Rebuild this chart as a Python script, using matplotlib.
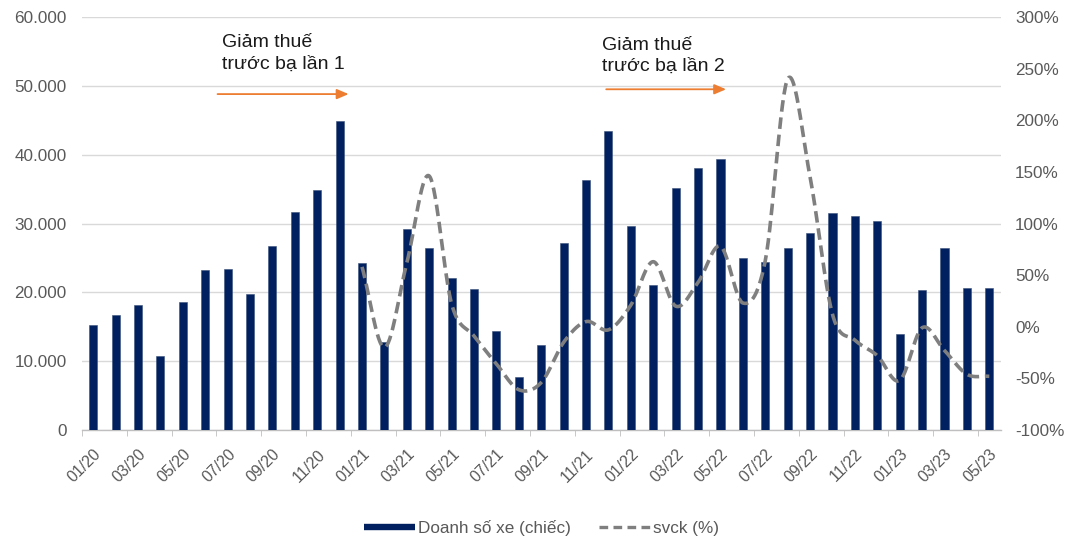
import numpy as np
import matplotlib
matplotlib.use("Agg")
import matplotlib.pyplot as plt
from matplotlib.ticker import FuncFormatter, FixedLocator
from matplotlib.lines import Line2D

plt.rcParams['font.family'] = ['Liberation Sans', 'DejaVu Sans']

months = ["01/20", "02/20", "03/20", "04/20", "05/20", "06/20", "07/20", "08/20", "09/20", "10/20", "11/20", "12/20",
          "01/21", "02/21", "03/21", "04/21", "05/21", "06/21", "07/21", "08/21", "09/21", "10/21", "11/21", "12/21",
          "01/22", "02/22", "03/22", "04/22", "05/22", "06/22", "07/22", "08/22", "09/22", "10/22", "11/22", "12/22",
          "01/23", "02/23", "03/23", "04/23", "05/23"]

sales = [15300, 16700, 18200, 10700, 18600, 23200, 23400, 19700, 26700, 31600, 34900, 44900,
         24200, 12800, 29200, 26400, 22100, 20500, 14400, 7700, 12400, 27100, 36300, 43500,
         29700, 21100, 35100, 38000, 39400, 25000, 24400, 26400, 28600, 31500, 31100, 30300,
         14000, 20400, 26400, 20700, 20700]

# YoY growth (%) starting from 01/21
yoy_start = "01/21"
yoy = [58, -20, 62, 146, 22, -9, -36, -61, -54, -15, 5, -3,
       21, 63, 20, 43, 78, 23, 64, 240, 145, 12, -13, -28,
       -52, -1, -23, -46, -48]

bar_label = "Doanh số xe (chiếc)"
line_label = "svck (%)"
note1 = ["Giảm thuế", "trước bạ lần 1"]
note2 = ["Giảm thuế", "trước bạ lần 2"]

NAVY = "#002060"
GRAY_LINE = "#7f7f7f"
ORANGE = "#ED7D31"
TXT = "#595959"


def catmull_rom(xs, ys, n=30):
    xs = np.asarray(xs, float)
    ys = np.asarray(ys, float)
    px = np.concatenate([[2 * xs[0] - xs[1]], xs, [2 * xs[-1] - xs[-2]]])
    py = np.concatenate([[2 * ys[0] - ys[1]], ys, [2 * ys[-1] - ys[-2]]])
    out_x, out_y = [], []
    t = np.linspace(0, 1, n, endpoint=False)
    for i in range(1, len(px) - 2):
        f = lambda a0, a1, a2, a3: 0.5 * ((2 * a1) + (-a0 + a2) * t +
                                        (2 * a0 - 5 * a1 + 4 * a2 - a3) * t ** 2 +
                                        (-a0 + 3 * a1 - 3 * a2 + a3) * t ** 3)
        out_x.append(f(px[i - 1], px[i], px[i + 1], px[i + 2]))
        out_y.append(f(py[i - 1], py[i], py[i + 1], py[i + 2]))
    out_x.append([xs[-1]])
    out_y.append([ys[-1]])
    return np.concatenate(out_x), np.concatenate(out_y)


fig = plt.figure(figsize=(10.66, 5.40), dpi=100)
ax = fig.add_axes([82 / 1066, 1 - 430 / 540, (1000.5 - 82) / 1066, (430 - 17) / 540])

x = np.arange(len(months))
ax.bar(x, sales, width=0.36, color=NAVY, edgecolor="#3a4f78", linewidth=0.4, zorder=3)

ax.set_xlim(-0.5, len(months) - 0.5)
ax.set_ylim(0, 60000)
ax.set_yticks(np.arange(0, 60001, 10000))
ax.yaxis.set_major_formatter(FuncFormatter(lambda v, p: "0" if v == 0 else f"{v:,.0f}".replace(",", ".")))
ax.grid(axis="y", color="#d9d9d9", linewidth=1.0, zorder=0)
ax.set_axisbelow(True)
for s in ["top", "left", "right"]:
    ax.spines[s].set_visible(False)
ax.spines["bottom"].set_color("#bfbfbf")
ax.spines["bottom"].set_linewidth(1.0)

ax.set_xticks(x[::2])
ax.set_xticklabels(months[::2], rotation=45, ha="right", va="top", rotation_mode="anchor",
                   fontsize=11.5, color=TXT)
ax.xaxis.set_minor_locator(FixedLocator(np.arange(-0.5, len(months), 2)))
ax.tick_params(axis="x", which="major", length=0, pad=12)
ax.tick_params(axis="x", which="minor", length=4, color="#bfbfbf")
ax.tick_params(axis="y", length=0, labelsize=12.3, labelcolor=TXT, pad=11)

ax2 = ax.twinx()
ax2.set_ylim(-1.0, 3.0)
ax2.set_yticks(np.arange(-1.0, 3.01, 0.5))
ax2.yaxis.set_major_formatter(FuncFormatter(lambda v, p: f"{v * 100:.0f}%"))
ax2.tick_params(axis="y", length=0, labelsize=12.3, labelcolor=TXT, pad=10.5)
for s in ax2.spines.values():
    s.set_visible(False)

start = months.index(yoy_start)
xl = x[start:start + len(yoy)]
sx, sy = catmull_rom(xl, np.array(yoy) / 100.0)
ax2.plot(sx, sy, color=GRAY_LINE, linewidth=2.6, dashes=(3.2, 1.6), zorder=4)


def note(lines, x0, y_base1, y_base2, arrow_x0, arrow_x1, arrow_y):
    ax.text(x0, y_base1, lines[0], fontsize=14, color="#1a1a1a", va="baseline", ha="left", zorder=5)
    ax.text(x0, y_base2, lines[1], fontsize=14, color="#1a1a1a", va="baseline", ha="left", zorder=5)
    ax.annotate("", xy=(arrow_x1, arrow_y), xytext=(arrow_x0, arrow_y),
                arrowprops=dict(arrowstyle="-|>,head_length=0.7,head_width=0.3", color=ORANGE,
                                lw=1.3, shrinkA=0, shrinkB=0), zorder=5)


note(note1, 5.73, 55700, 52500, 5.55, 11.4, 48800)
note(note2, 22.7, 55200, 52200, 22.9, 28.25, 49500)

handles = [Line2D([], [], color=NAVY, linewidth=4.6, solid_capstyle="butt"),
           Line2D([], [], color=GRAY_LINE, linewidth=2.4, dashes=(2.6, 1.6))]
fig.legend(handles, [bar_label, line_label], loc="center", bbox_to_anchor=(0.508, 1 - 528 / 540), ncol=2,
           frameon=False, fontsize=12.3, labelcolor=TXT, handlelength=3.0, handletextpad=0.15,
           columnspacing=1.7)

fig.savefig("out.png", dpi=100)
